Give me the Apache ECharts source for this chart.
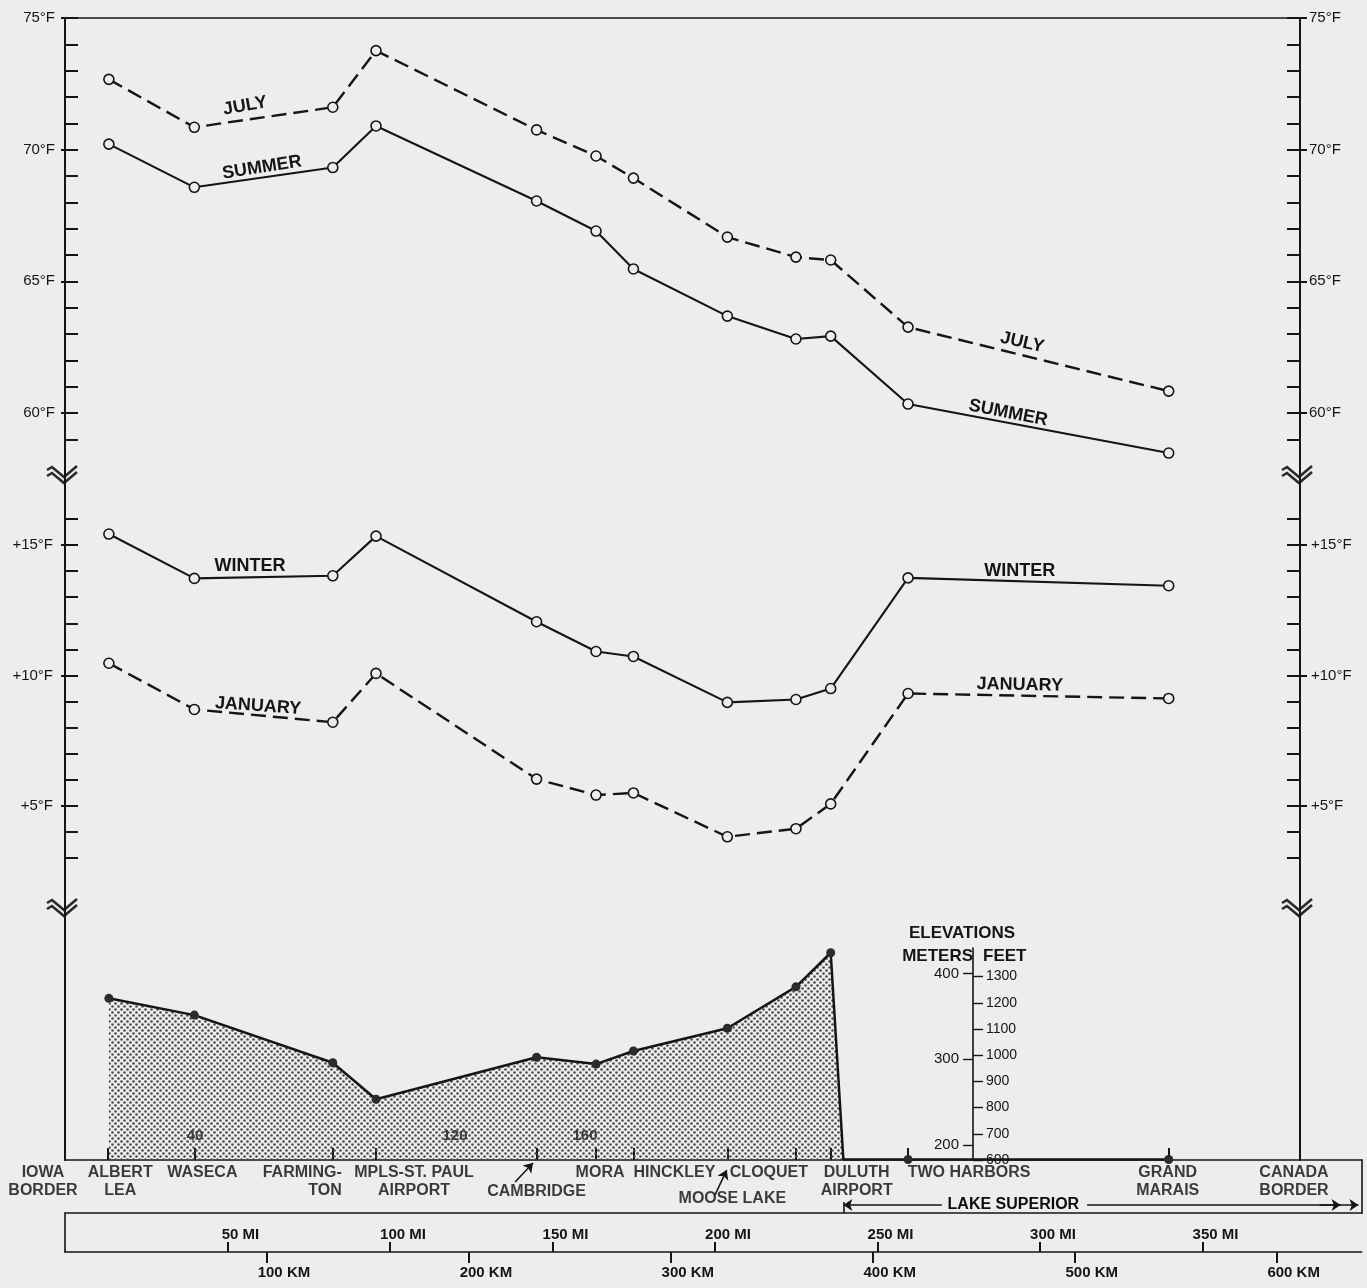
<!DOCTYPE html>
<html>
<head>
<meta charset="utf-8">
<title>Temperature and elevation profile, Iowa border to Canada border</title>
<script src="https://cdn.jsdelivr.net/npm/echarts@6/dist/echarts.min.js"></script>
<style>
html,body{margin:0;padding:0;background:#ededee;}
#chart{width:1367px;height:1288px;}
</style>
</head>
<body>
<div id="chart"></div>
<script>
// ---------------- data ----------------
const stationLabels = ['IOWA\nBORDER','ALBERT\nLEA','WASECA','FARMING-\nTON','MPLS-ST. PAUL\nAIRPORT','CAMBRIDGE','MORA','HINCKLEY','MOOSE LAKE','CLOQUET','DULUTH\nAIRPORT','TWO HARBORS','GRAND\nMARAIS','CANADA\nBORDER'];
const stationMiles  = [0, 13.3, 39.8, 82.4, 95.7, 145.1, 163.4, 174.9, 203.8, 224.9, 235.6, 259.4, 339.6, 380];
// observing sites: Albert Lea ... Grand Marais
const siteMiles = [13.5, 39.8, 82.4, 95.7, 145.1, 163.4, 174.9, 203.8, 224.9, 235.6, 259.4, 339.6];
const julyF    = [72.67, 70.85, 71.61, 73.76, 70.75, 69.76, 68.92, 66.68, 65.92, 65.81, 63.26, 60.83];
const summerF  = [70.21, 68.57, 69.32, 70.90, 68.05, 66.91, 65.47, 63.68, 62.81, 62.92, 60.34, 58.48];
const winterF  = [15.42, 13.72, 13.82, 15.34, 12.06, 10.92, 10.73, 8.97, 9.08, 9.50, 13.74, 13.44];
const januaryF = [10.47, 8.70, 8.21, 10.08, 6.03, 5.42, 5.50, 3.82, 4.13, 5.08, 9.31, 9.12];
const elevationFt = [1217, 1153, 971, 832, 992, 966, 1016, 1103, 1261, 1391, 602, 602];
const lakeShoreMile = 239.5;
const lakeLevelFt = 602;
const mileTicks = [50, 100, 150, 200, 250, 300, 350];
const kmTicks = [100, 200, 300, 400, 500, 600];
const feetTicks = [600, 700, 800, 900, 1000, 1100, 1200, 1300];
const meterTicks = [200, 300, 400];
const upperTempTicks = [59,60,61,62,63,64,65,66,67,68,69,70,71,72,73,74,75];
const upperTempLabels = [60, 65, 70, 75];
const lowerTempTicks = [3,4,5,6,7,8,9,10,11,12,13,14,15,16];
const lowerTempLabels = [5, 10, 15];
const routeMileMarks = [40, 120, 160];

// ---------------- layout (positions / styles) ----------------
const X0 = 65, P = 3.25;             // left edge, px per mile
const TEMP_MI = 380, FULL_MI = 399;
const INK = '#151515', BG = '#ededee';
const FONT = "'Liberation Sans', Arial, sans-serif";
const G = {
  upper: {top: 18, height: 457},
  lower: {top: 475, height: 433},
  elev:  {top: 908, height: 252},
  scale: {left: 973, top: 948, height: 212},
  label: {top: 1160, height: 53},
  miles: {top: 1213, height: 39}
};
const upperPx = 395 / 15;
const upperMax = 75, upperMin = upperMax - G.upper.height / upperPx;
const lowerPx = 26.1;
const lowerMax = 15 + 70 / lowerPx, lowerMin = lowerMax - G.lower.height / lowerPx;
const ftPx = 0.262;
const elevMin = 600, elevMax = elevMin + G.elev.height / ftPx;
const scaleMax = 600 + G.scale.height / ftPx;
const FT_TO_M = 0.3048, MI_TO_KM = 1.609344;

// label placements along the curves: [mile, °F, rotation]
const lineLabelSpots = {
  JULY:    [[55.4, 71.66, 10], [294.5, 62.68, -13]],
  SUMMER:  [[60.6, 69.32, 9],  [290.2, 60.0, -11]],
  WINTER:  [[56.9, 14.21, 0],  [293.8, 14.0, 0]],
  JANUARY: [[59.4, 8.83, -4],  [293.8, 9.64, -1]]
};
// station label offsets: [dx px, dy px, align]
const stationLabelLayout = [
  [-22, 4, 'center'], [12, 4, 'center'], [8, 4, 'center'], [9, 4, 'right'],
  [38, 4, 'center'], [0, 23, 'center'], [4, 4, 'center'], [41, 4, 'center'],
  [5, 30, 'center'], [-27, 4, 'center'], [26, 4, 'center'], [61, 4, 'center'],
  [-1, 4, 'center'], [-6, 4, 'center']
];

const axisLn = {color: INK, width: 2};
const noLine = {show: false, onZero: false};
const yesLine = {show: true, onZero: false, lineStyle: axisLn};
const plain = v => String(v);
function val(extra) {
  return Object.assign({type: 'value', splitLine: {show: false}, axisPointer: {show: false}}, extra);
}
function hidden(gi, min, max) {
  return val({gridIndex: gi, show: false, min, max, axisLine: noLine});
}

function tempYAxes(gi, min, max, ticks, labels, fmt, lm, rm) {
  const lbl = {color: INK, fontSize: 15, fontFamily: FONT, formatter: fmt, customValues: labels};
  return [
    val({gridIndex: gi, min, max, position: 'left', axisLine: yesLine,
      axisTick: {show: true, inside: true, length: 13, customValues: ticks, lineStyle: axisLn},
      axisLabel: Object.assign({show: true, margin: lm}, lbl)}),
    val({gridIndex: gi, min, max, position: 'left', axisLine: noLine,
      axisTick: {show: true, inside: false, length: 4, customValues: labels, lineStyle: axisLn},
      axisLabel: {show: false}}),
    val({gridIndex: gi, min, max, position: 'right', axisLine: yesLine,
      axisTick: {show: true, inside: true, length: 13, customValues: ticks, lineStyle: axisLn},
      axisLabel: Object.assign({show: true, margin: rm}, lbl)}),
    val({gridIndex: gi, min, max, position: 'right', axisLine: noLine,
      axisTick: {show: true, inside: false, length: 7, customValues: labels, lineStyle: axisLn},
      axisLabel: {show: false}})
  ];
}

// stipple pattern for the elevation profile
const pat = document.createElement('canvas');
pat.width = 6; pat.height = 6;
const pctx = pat.getContext('2d');
pctx.fillStyle = '#4a4a4a';
[[1.5, 1.5], [4.5, 4.5]].forEach(([x, y]) => { pctx.beginPath(); pctx.arc(x, y, 1.3, 0, Math.PI * 2); pctx.fill(); });

function lineLabels(name) {
  return {
    silent: true, animation: false, symbol: 'circle', symbolSize: 1,
    itemStyle: {color: 'rgba(0,0,0,0)'},
    label: {show: true, position: 'inside', formatter: '{b}', color: INK, fontSize: 18, fontWeight: 'bold', fontFamily: FONT},
    data: lineLabelSpots[name].map(s => ({name: name, coord: [s[0], s[1]], label: {rotate: s[2]}}))
  };
}
function tempSeries(name, values, xi, yi, dashed) {
  return {
    type: 'line', name, xAxisIndex: xi, yAxisIndex: yi, clip: false, z: 3,
    data: siteMiles.map((m, i) => [m, values[i]]),
    symbol: 'circle', symbolSize: 10, showAllSymbol: true,
    itemStyle: {color: BG, borderColor: INK, borderWidth: 1.6},
    lineStyle: {color: INK, width: dashed ? 2.4 : 2.1, type: dashed ? [15, 7] : 'solid'},
    emphasis: {disabled: true},
    markPoint: lineLabels(name)
  };
}

const elevData = [];
siteMiles.forEach((m, i) => {
  if (i === 10) elevData.push({value: [lakeShoreMile, lakeLevelFt], symbol: 'none'});
  elevData.push([m, elevationFt[i]]);
});

function chevron(cx, cy) {
  return {
    type: 'group', x: cx, y: cy, silent: true, z: 100,
    children: [0, 6].map(d => ({
      type: 'polyline',
      shape: {points: [[-18, -5 + d], [-13, -8 + d], [-1, 2 + d], [12, -9 + d]]},
      style: {stroke: '#2a2a2a', lineWidth: 2.6, fill: null}
    }))
  };
}

const xRight = X0 + TEMP_MI * P;

const option = {
  animation: false,
  backgroundColor: BG,
  textStyle: {fontFamily: FONT},
  title: [
    {text: 'ELEVATIONS', left: 957, top: 920, textAlign: 'center', textStyle: {fontSize: 17, fontWeight: 'bold', color: INK, fontFamily: FONT}},
    {text: 'METERS', left: 968, top: 943, textAlign: 'right', textStyle: {fontSize: 17, fontWeight: 'bold', color: INK, fontFamily: FONT}},
    {text: 'FEET', left: 978, top: 943, textAlign: 'left', textStyle: {fontSize: 17, fontWeight: 'bold', color: INK, fontFamily: FONT}}
  ],
  grid: [
    {left: X0, top: G.upper.top, width: TEMP_MI * P, height: G.upper.height, containLabel: false, outerBoundsMode: 'none'},
    {left: X0, top: G.lower.top, width: TEMP_MI * P, height: G.lower.height, containLabel: false, outerBoundsMode: 'none'},
    {left: X0, top: G.elev.top, width: TEMP_MI * P, height: G.elev.height, containLabel: false, outerBoundsMode: 'none'},
    {left: G.scale.left, top: G.scale.top, width: 1, height: G.scale.height, containLabel: false, outerBoundsMode: 'none'},
    {left: X0, top: G.label.top, width: FULL_MI * P, height: G.label.height, containLabel: false, outerBoundsMode: 'none'},
    {left: X0, top: G.miles.top, width: FULL_MI * P, height: G.miles.height, containLabel: false, outerBoundsMode: 'none'}
  ],
  xAxis: [
    // 0 top line at 75°F
    val({gridIndex: 0, min: 0, max: TEMP_MI, position: 'top', axisLine: {show: true, onZero: false, lineStyle: {color: INK, width: 1.6}}, axisTick: {show: false}, axisLabel: {show: false}}),
    // 1
    hidden(1, 0, TEMP_MI),
    // 2 station ticks on the elevation baseline
    val({gridIndex: 2, min: 0, max: TEMP_MI, position: 'bottom', axisLine: noLine,
      axisTick: {show: true, inside: true, length: 12, customValues: stationMiles, lineStyle: {color: INK, width: 2}},
      axisLabel: {show: false}}),
    // 3 route mile marks
    val({gridIndex: 2, min: 0, max: TEMP_MI, position: 'bottom', axisLine: noLine, axisTick: {show: false}, z: 20,
      axisLabel: {show: true, inside: true, margin: 17, customValues: routeMileMarks, color: '#3c3c3c', fontSize: 15, fontWeight: 'bold', fontFamily: FONT}}),
    // 4
    hidden(3, 0, 1),
    // 5 baseline (top of label box)
    val({gridIndex: 4, min: 0, max: FULL_MI, position: 'top', axisLine: {show: true, onZero: false, lineStyle: {color: INK, width: 1.6}}, axisTick: {show: false}, axisLabel: {show: false}}),
    // 6 bottom of label box
    val({gridIndex: 4, min: 0, max: FULL_MI, position: 'bottom', axisLine: {show: true, onZero: false, lineStyle: {color: INK, width: 1.6}},
      axisTick: {show: true, inside: true, length: 11, customValues: [lakeShoreMile], lineStyle: {color: INK, width: 1.6}}, axisLabel: {show: false}}),
    // 7 miles
    val({gridIndex: 5, min: 0, max: FULL_MI, position: 'bottom', axisLine: {show: true, onZero: false, lineStyle: {color: INK, width: 1.6}},
      axisTick: {show: true, inside: true, length: 10, customValues: mileTicks, lineStyle: {color: INK, width: 2}},
      axisLabel: {show: true, inside: true, margin: 10, customValues: mileTicks, formatter: '{value} MI', padding: [0, 0, 0, 26],
        color: INK, fontSize: 15, fontWeight: 'bold', fontFamily: FONT}}),
    // 8 kilometres
    val({gridIndex: 5, min: 0, max: FULL_MI * MI_TO_KM, position: 'bottom', axisLine: noLine,
      axisTick: {show: true, inside: false, length: 11, customValues: kmTicks, lineStyle: {color: INK, width: 2}},
      axisLabel: {show: true, margin: 13, customValues: kmTicks, formatter: '{value} KM', padding: [0, 0, 0, 34],
        color: INK, fontSize: 15, fontWeight: 'bold', fontFamily: FONT}})
  ],
  yAxis: [].concat(
    tempYAxes(0, upperMin, upperMax, upperTempTicks, upperTempLabels, '{value}°F', 10, 9),
    tempYAxes(1, lowerMin, lowerMax, lowerTempTicks, lowerTempLabels, '+{value}°F', 12, 11),
    [
      // 8 elevation data axis (left line)
      val({gridIndex: 2, min: elevMin, max: elevMax, position: 'left', axisLine: yesLine, axisTick: {show: false}, axisLabel: {show: false}}),
      // 9 right line
      val({gridIndex: 2, min: elevMin, max: elevMax, position: 'right', axisLine: yesLine, axisTick: {show: false}, axisLabel: {show: false}}),
      // 10 feet scale
      val({gridIndex: 3, min: 600, max: scaleMax, position: 'left', axisLine: {show: true, onZero: false, lineStyle: {color: INK, width: 1.6}},
        axisTick: {show: true, inside: true, length: 10, customValues: feetTicks, lineStyle: {color: INK, width: 1.4}},
        axisLabel: {show: true, inside: true, margin: 13, customValues: feetTicks, formatter: plain, color: INK, fontSize: 14, fontFamily: FONT}}),
      // 11 metres scale
      val({gridIndex: 3, min: 600 * FT_TO_M, max: scaleMax * FT_TO_M, position: 'left', axisLine: noLine,
        axisTick: {show: true, inside: false, length: 10, customValues: meterTicks, lineStyle: {color: INK, width: 1.4}},
        axisLabel: {show: true, margin: 14, customValues: meterTicks, formatter: plain, color: INK, fontSize: 15, fontFamily: FONT}}),
      // 12 label box right edge
      val({gridIndex: 4, min: 0, max: 1, position: 'right', axisLine: {show: true, onZero: false, lineStyle: {color: INK, width: 1.6}}, axisTick: {show: false}, axisLabel: {show: false}}),
      // 13 miles/km left edge
      val({gridIndex: 5, min: 0, max: 1, position: 'left', axisLine: {show: true, onZero: false, lineStyle: {color: INK, width: 1.6}}, axisTick: {show: false}, axisLabel: {show: false}})
    ]
  ),
  series: [
    tempSeries('JULY', julyF, 0, 0, true),
    tempSeries('SUMMER', summerF, 0, 0, false),
    tempSeries('WINTER', winterF, 1, 4, false),
    tempSeries('JANUARY', januaryF, 1, 4, true),
    {
      type: 'line', name: 'Elevation', xAxisIndex: 2, yAxisIndex: 8, clip: false, z: 1,
      data: elevData, symbol: 'circle', symbolSize: 9, showAllSymbol: true,
      itemStyle: {color: '#2b2b2b'},
      lineStyle: {color: INK, width: 2.5},
      areaStyle: {color: {image: pat, repeat: 'repeat'}, opacity: 1, origin: 'start'},
      emphasis: {disabled: true}
    },
    {
      type: 'scatter', name: 'stations', xAxisIndex: 5, yAxisIndex: 12, clip: false, silent: true,
      symbol: 'circle', symbolSize: 1, itemStyle: {color: 'rgba(0,0,0,0)'},
      label: {show: true, position: 'inside', verticalAlign: 'top', formatter: '{b}', color: '#0c0c0c',
        fontSize: 16, fontWeight: 'bold', fontFamily: FONT, lineHeight: 18},
      data: stationLabels.map((n, i) => ({
        name: n, value: [stationMiles[i], 1],
        label: {align: stationLabelLayout[i][2], offset: [stationLabelLayout[i][0], stationLabelLayout[i][1]]}
      })),
      markLine: {
        silent: true, animation: false, symbol: ['none', 'arrow'], symbolSize: 9,
        label: {show: false},
        lineStyle: {color: INK, width: 1.6, type: 'solid'},
        data: [
          [{coord: [138.5, 0.585]}, {coord: [144, 0.943]}],
          [{coord: [200, 0.34]}, {coord: [203.6, 0.81]}],
          [{coord: [lakeShoreMile, 0.15], symbol: 'arrow'}, {coord: [269.8, 0.15], symbol: 'none'}],
          [{coord: [314.5, 0.15]}, {coord: [398, 0.15]}],
          [{coord: [386, 0.15]}, {coord: [392.5, 0.15]}]
        ]
      },
      markPoint: {
        silent: true, animation: false, symbol: 'circle', symbolSize: 1, itemStyle: {color: 'rgba(0,0,0,0)'},
        label: {show: true, position: 'inside', formatter: '{b}', color: '#0c0c0c', fontSize: 16, fontWeight: 'bold', fontFamily: FONT},
        data: [{name: 'LAKE SUPERIOR', coord: [291.8, 0.15]}]
      }
    }
  ],
  graphic: [
    chevron(X0, 475), chevron(X0, 908), chevron(xRight, 475), chevron(xRight, 908)
  ]
};

const chart = echarts.init(document.getElementById('chart'), null, {renderer: 'canvas', width: 1367, height: 1288});
chart.setOption(option);
</script>
</body>
</html>
